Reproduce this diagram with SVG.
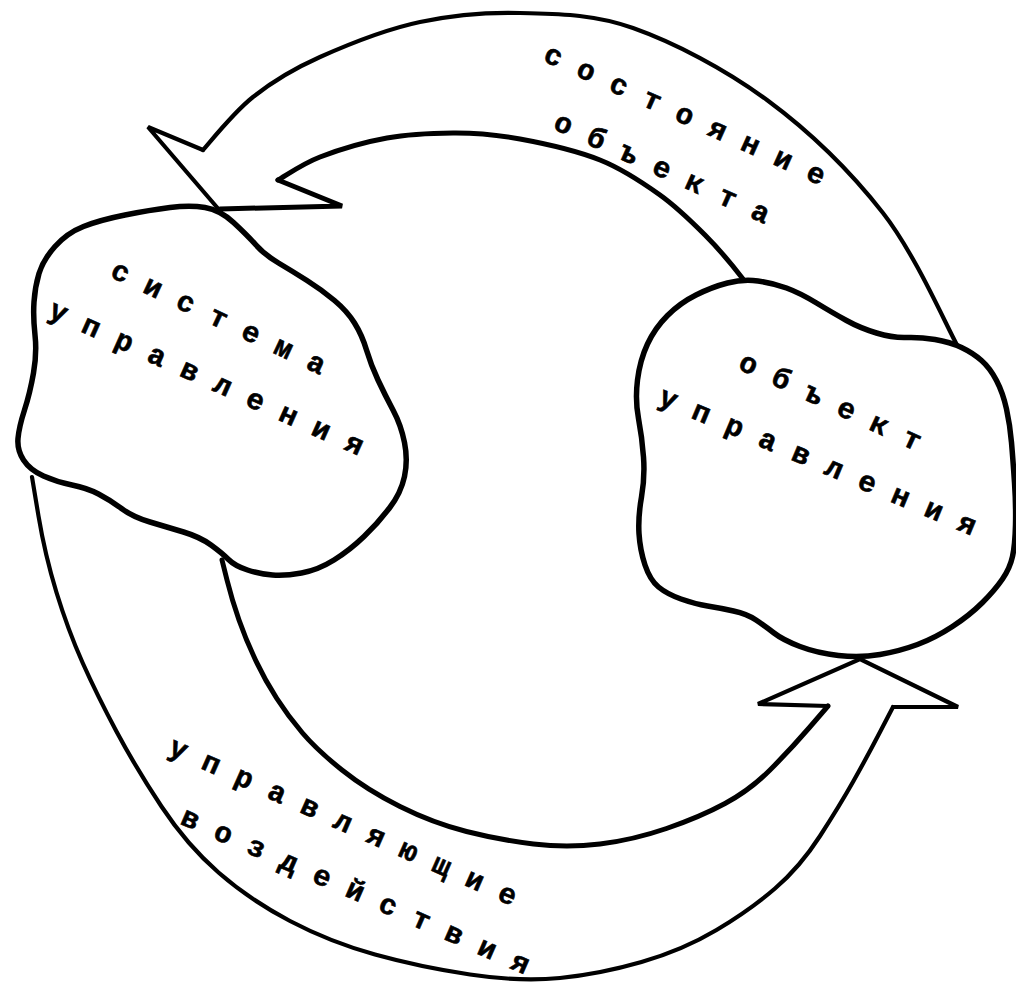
<svg xmlns="http://www.w3.org/2000/svg" width="1016" height="988" viewBox="0 0 1016 988">
<style>
.cloud{fill:none;stroke:#000;stroke-width:5.5;stroke-linejoin:round;stroke-linecap:round}
.arrow{fill:none;stroke:#000;stroke-width:4.2;stroke-linejoin:miter;stroke-linecap:round}
.inner{stroke-width:5}
.lbl{font-family:"Liberation Mono","DejaVu Sans Mono",monospace;font-size:29px;font-weight:bold;fill:#000;stroke:#000;stroke-width:0.6;letter-spacing:18.6px}
</style>
<rect width="1016" height="988" fill="#fff"/>
<g id="connectors">
  <g id="arrow-state">
    <path class="arrow" d="M203,150 C211,141 233.5,112.5 253,97 C272.5,81.5 292,69.5 320,57 C348,44.5 387,29 420,22 C453,15 484.5,12 520,13 C555.5,14 592,13.5 633,28 C674,42.5 725,69 767,100 C809,131 851,172 883,213 C915,254 945,323 957,345"/>
    <path class="arrow inner" d="M278,180 C285,176.2 301.8,164 320,157 C338.2,150 364.8,142 387,138 C409.2,134 430.8,133.2 453,133 C475.2,132.8 495.5,134.5 520,139 C544.5,143.5 576.7,150.7 600,160 C623.3,169.3 642.5,182.5 660,195 C677.5,207.5 691.2,221.2 705,235 C718.8,248.8 736.7,270.8 743,279"/>
    <path class="arrow" d="M203,150 L148,127 L221,212"/>
    <path class="arrow inner" d="M220,209 L342,206 L278,180"/>
    <text class="lbl" transform="translate(541.9,60.5) rotate(24.2)">состояние</text>
    <text class="lbl" transform="translate(551.9,128.5) rotate(24.2)">объекта</text>
  </g>
  <g id="arrow-control">
    <path class="arrow" d="M32,477 L38.5,516 Q45,555 56.5,592.5 Q68,630 82.5,662.5 Q97,695 116.5,731.5 Q136,768 161.5,806.5 Q187,845 218.5,872.5 Q250,900 290,921 Q330,942 375,954.5 Q420,967 470,974.5 Q520,982 560,978 Q600,974 641.5,962 Q683,950 716.5,930 Q750,910 775,888.5 Q800,867 820,836 Q840,805 853.5,781 Q867,757 880,732 L893,707"/>
    <path class="arrow inner" d="M222,560 L227,580 Q232,600 239,620 Q246,640 255.5,660 Q265,680 276.5,698 Q288,716 302.5,733 Q317,750 342,770 Q367,790 400,806.5 Q433,823 466.5,831.5 Q500,840 533.5,844 Q567,848 600,844 Q633,840 666.5,828.5 Q700,817 725,803.5 Q750,790 770,770 Q790,750 809,728 L828,706"/>
    <path class="arrow" d="M828,706 L758,704 L860,659 L958,707 L893,707"/>
    <text class="lbl" transform="translate(166.9,753.5) rotate(23.9)">управляющие</text>
    <text class="lbl" transform="translate(178.9,823.5) rotate(23.6)">воздействия</text>
  </g>
</g>
<g id="control-system">
  <path class="cloud" d="M205,207.5 Q220,210 233.5,222.5 Q247,235 256,245 Q265,255 278.5,263 Q292,271 307,280.5 Q322,290 334.5,300.5 Q347,311 354.5,323 Q362,335 366.5,350 Q371,365 378,380 Q385,395 393,410 Q401,425 404.5,442.5 Q408,460 404.5,476.5 Q401,493 389.5,508 Q378,523 364,536.5 Q350,550 334,560 Q318,570 301.5,573 Q285,576 272.5,575 Q260,574 247.5,570 Q235,566 228.5,559.5 Q222,553 211,545 Q200,537 183.5,532 Q167,527 150,522 Q133,517 121.5,508.5 Q110,500 98.5,494 Q87,488 72,485 Q57,482 43.5,476 Q30,470 23.5,460 Q17,450 18,438.5 Q19,427 24.5,410 Q30,393 33.5,373 Q37,353 35,335 Q33,317 34,302 Q35,287 39,273.5 Q43,260 55,246.5 Q67,233 83.5,226.5 Q100,220 125,215 Q150,210 170,207.5 Q190,205 205,207.5 Z"/>
  <text class="lbl" transform="translate(108.9,276.5) rotate(25)">система</text>
  <text class="lbl" transform="translate(46.9,316.5) rotate(24.1)">управления</text>
</g>
<g id="control-object">
  <path class="cloud" d="M727.5,283 Q743,279 758,281 Q773,283 786.5,288 Q800,293 816.5,303 Q833,313 846.5,320.5 Q860,328 876.5,333 Q893,338 906.5,337.5 Q920,337 935,339.5 Q950,342 961.5,347.5 Q973,353 981.5,360.5 Q990,368 996.5,380.5 Q1003,393 1006.5,409 Q1010,425 1011.5,442.5 Q1013,460 1014.5,482.5 Q1016,505 1015.5,525 Q1015,545 1012.5,556.5 Q1010,568 1002.5,579 Q995,590 982.5,602.5 Q970,615 952.5,626.5 Q935,638 917.5,644.5 Q900,651 880,654.5 Q860,658 838.5,655.5 Q817,653 800,646.5 Q783,640 774,633 Q765,626 756,620 Q747,614 733.5,611 Q720,608 707.5,606 Q695,604 681,599 Q667,594 658.5,587 Q650,580 645,565 Q640,550 639,533.5 Q638,517 641.5,497 Q645,477 643.5,457 Q642,437 638.5,418.5 Q635,400 637.5,380 Q640,360 647.5,344 Q655,328 667.5,315.5 Q680,303 696,295 Q712,287 727.5,283 Z"/>
  <text class="lbl" transform="translate(736.9,368.5) rotate(24.8)">объект</text>
  <text class="lbl" transform="translate(656.9,403.5) rotate(22.8)">управления</text>
</g>
</svg>
